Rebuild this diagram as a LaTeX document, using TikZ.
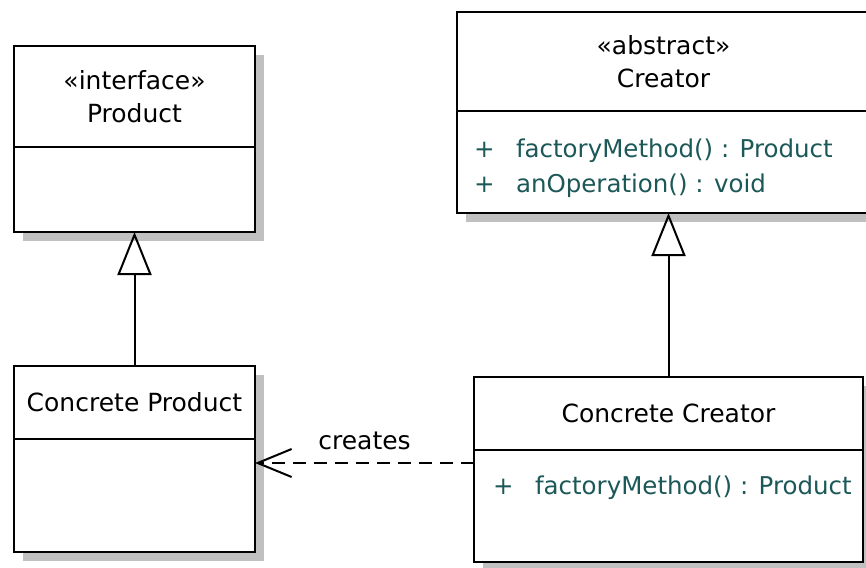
\documentclass[tikz,border=0pt]{standalone}
\usepackage{fontspec}
\setmainfont{DejaVu Sans}
\usetikzlibrary{positioning,shadows,arrows.meta}
\definecolor{opcolor}{RGB}{28,88,88}
\definecolor{shadowgray}{RGB}{192,192,192}
\def\boxline{2pt}
\def\shadowsep{9pt}
\newcommand{\opsign}{\makebox[42pt][l]{+}}

\begin{document}
\begin{tikzpicture}[x=1pt,y=-1pt, line width=\boxline, font=\fontsize{25}{33}\selectfont]
    \tikzstyle{compartment}=[rectangle, draw=black, fill=white, inner sep=0pt, outer sep=0pt, align=center,
        general shadow={fill=shadowgray, shadow xshift=\shadowsep, shadow yshift=-\shadowsep}]
    \tikzstyle{operation}=[text=opcolor, anchor=west, inner sep=0pt, font=\fontsize{24.5}{32}\selectfont]
    \tikzstyle{inherit}=[-{Triangle[open, length=43pt, width=34pt]}, line width=2pt]
    \tikzstyle{depends}=[dash pattern=on 13pt off 8pt, -{Straight Barb[length=34pt, width=28pt]}, line width=2pt]

    \useasboundingbox (0,0) rectangle (866,567);

    % Product interface
    \node[compartment, anchor=north west, minimum width=241pt, minimum height=101pt] (product) at (14,46) {«interface»\\Product};
    \node[compartment, below=0pt of product, minimum width=241pt, minimum height=85pt] (product-ops) {};

    % Abstract creator
    \node[compartment, anchor=north west, minimum width=413pt, minimum height=99pt] (creator) at (457,12) {«abstract»\\Creator};
    \node[compartment, below=0pt of creator, minimum width=413pt, minimum height=102pt] (creator-ops) {};
    \node[operation] (creator-op1) at (473,151) {\opsign factoryMethod() : Product};
    \node[operation] (creator-op2) at (473,186) {\opsign anOperation() : void};

    % Concrete product
    \node[compartment, anchor=north west, minimum width=241pt, minimum height=73pt] (cproduct) at (14,366) {Concrete Product};
    \node[compartment, below=0pt of cproduct, minimum width=241pt, minimum height=113pt] (cproduct-ops) {};

    % Concrete creator
    \node[compartment, anchor=north west, minimum width=389pt, minimum height=73pt] (ccreator) at (474,377) {Concrete Creator};
    \node[compartment, below=0pt of ccreator, minimum width=389pt, minimum height=112pt] (ccreator-ops) {};
    \node[operation] (ccreator-op1) at (492,488) {\opsign factoryMethod() : Product};

    % Generalisations
    \draw[inherit] (cproduct.north) -- (product-ops.south);
    \draw[inherit] (ccreator.north) -- (ccreator.north |- creator-ops.south);

    % Dependency
    \coordinate (dep-level) at (0,463);
    \draw[depends] (ccreator-ops.west |- dep-level) -- (cproduct-ops.east |- dep-level)
        node[pos=0.5, above=9pt] (creates-label) {creates};
\end{tikzpicture}
\end{document}
